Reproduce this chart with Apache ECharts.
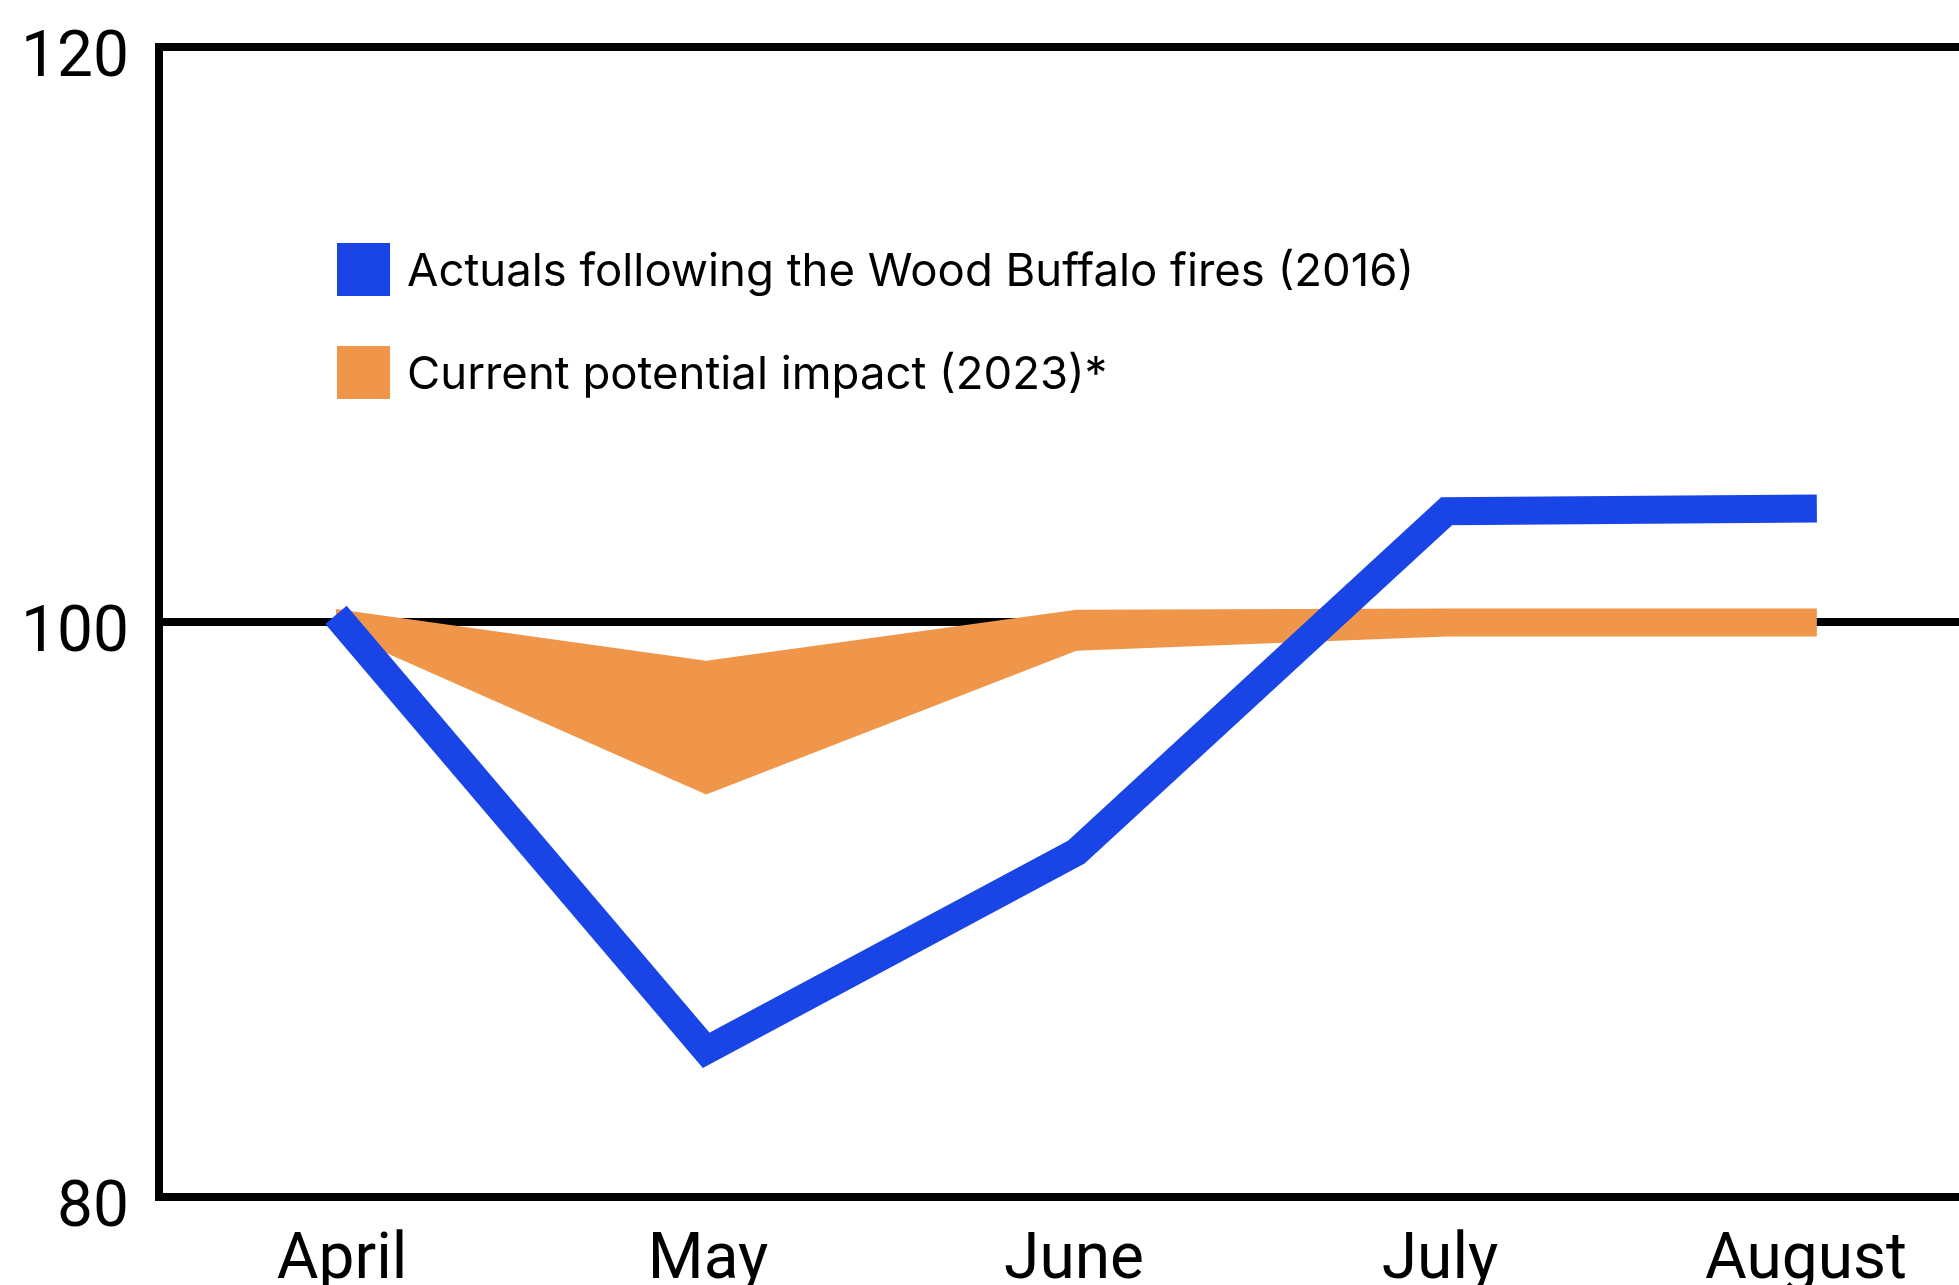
<!DOCTYPE html>
<html>
<head>
<meta charset="utf-8">
<title>Wood Buffalo fires impact</title>
<script src="https://cdn.jsdelivr.net/npm/echarts@6/dist/echarts.min.js"></script>
<style>
  html, body { margin: 0; padding: 0; background: #ffffff; }
  #chart { width: 1959px; height: 1285px; }
</style>
</head>
<body>
<div id="chart"></div>
<script>
// Month categories shown along the bottom axis
const months = ['April', 'May', 'June', 'July', 'August'];
// Index (0..4) used to place each monthly value on the hidden value axis
const monthIndex = [0, 1, 2, 3, 4];
// Index level, 2016 actuals after the Wood Buffalo fires
const actuals2016 = [100.25, 85.1, 92.0, 103.85, 103.95];
// Range of the 2023 potential impact (lower and upper bounds)
const impactLow2023 = [99.7, 94.0, 99.0, 99.5, 99.5];
const impactHigh2023 = [100.45, 98.65, 100.43, 100.47, 100.47];
// Y axis bounds and step
const yMin = 80, yMax = 120, yStep = 20;

const nameActuals = 'Actuals following the Wood Buffalo fires (2016)';
const nameImpact = 'Current potential impact (2023)*';

const BLUE = '#1A45E6';
const ORANGE = '#F0964A';
const AXIS_FONT = 'Roboto';
const LEGEND_FONT = 'Inter';

const chart = echarts.init(document.getElementById('chart'), null, { renderer: 'canvas' });

chart.setOption({
  animation: false,
  backgroundColor: '#ffffff',
  grid: {
    left: 159, right: -30, top: 47, bottom: 88,
    containLabel: false,
    outerBoundsMode: 'none'
  },
  legend: {
    orient: 'vertical',
    left: 337,
    top: 243,
    padding: 0,
    itemWidth: 53,
    itemHeight: 53,
    itemGap: 50,
    icon: 'rect',
    selectedMode: false,
    data: [nameActuals, nameImpact],
    itemStyle: { borderWidth: 0 },
    textStyle: {
      fontFamily: LEGEND_FONT, fontSize: 45.5, color: '#000',
      rich: { t: { fontFamily: LEGEND_FONT, fontSize: 45.5, color: '#000', padding: [6, 0, 0, 12] } }
    },
    formatter: (name) => '{t|' + name + '}'
  },
  xAxis: [
    {
      type: 'category',
      data: months,
      boundaryGap: true,
      position: 'bottom',
      z: 10,
      axisLine: { show: true, onZero: false, lineStyle: { color: '#000', width: 8, cap: 'square' } },
      axisTick: { show: false },
      splitLine: { show: false },
      axisLabel: { fontFamily: AXIS_FONT, fontSize: 64, color: '#000', margin: 33 }
    },
    {
      type: 'value',
      show: false,
      min: -0.478,
      max: 4.465,
      axisLine: { onZero: false },
      splitLine: { show: false }
    }
  ],
  yAxis: {
    type: 'value',
    min: yMin,
    max: yMax,
    interval: yStep,
    axisLine: { show: true, onZero: false, lineStyle: { color: '#000', width: 8, cap: 'square' } },
    axisTick: { show: false },
    splitLine: { show: true, lineStyle: { color: '#000', width: 8 } },
    axisLabel: {
      margin: 30,
      formatter: '{v|{value}}',
      rich: { v: { fontFamily: AXIS_FONT, fontSize: 64, color: '#000', padding: [26, 0, 0, 0] } }
    }
  },
  series: [
    {
      // Band between the lower and upper bound of the 2023 estimate
      name: nameImpact,
      type: 'custom',
      xAxisIndex: 1,
      yAxisIndex: 0,
      itemStyle: { color: ORANGE },
      encode: { x: 0, y: [1, 2] },
      data: monthIndex.map((x, i) => [x, impactLow2023[i], impactHigh2023[i]]),
      renderItem: function (params, api) {
        if (params.dataIndex !== 0) return null;
        const upper = monthIndex.map((x, i) => api.coord([x, impactHigh2023[i]]));
        const lower = monthIndex.map((x, i) => api.coord([x, impactLow2023[i]])).reverse();
        return {
          type: 'polygon',
          shape: { points: upper.concat(lower) },
          style: { fill: ORANGE }
        };
      },
      silent: true,
      z: 3
    },
    {
      name: nameActuals,
      type: 'line',
      xAxisIndex: 1,
      yAxisIndex: 0,
      data: monthIndex.map((x, i) => [x, actuals2016[i]]),
      symbol: 'none',
      itemStyle: { color: BLUE },
      lineStyle: { color: BLUE, width: 28, join: 'miter', cap: 'butt' },
      z: 4
    }
  ]
});
</script>
</body>
</html>
